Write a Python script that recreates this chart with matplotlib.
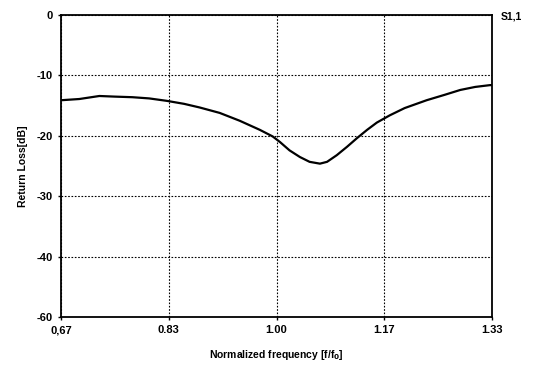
import numpy as np
import matplotlib
matplotlib.use("Agg")
import matplotlib.pyplot as plt

# curve (normalized frequency, return loss in dB)
freq = [0.667, 0.695, 0.726, 0.749, 0.777, 0.803, 0.830, 0.857, 0.881, 0.912,
        0.943, 0.974, 0.994, 1.005, 1.020, 1.036, 1.051, 1.067, 1.078, 1.093,
        1.109, 1.124, 1.140, 1.155, 1.175, 1.198, 1.232, 1.260, 1.284, 1.307,
        1.330, 1.333]
loss = [-14.1, -13.9, -13.4, -13.5, -13.6, -13.8, -14.2, -14.7, -15.3, -16.2,
        -17.5, -19.0, -20.1, -21.0, -22.4, -23.5, -24.3, -24.6, -24.3, -23.2,
        -21.8, -20.4, -19.0, -17.8, -16.6, -15.4, -14.1, -13.2, -12.4, -11.9,
        -11.6, -11.6]

x_ticks = [2 / 3, 5 / 6, 1.0, 7 / 6, 4 / 3]
x_labels = ["0,67", "0.83", "1.00", "1.17", "1.33"]
y_ticks = [0, -10, -20, -30, -40, -50]
y_labels = ["0", "-10", "-20", "-30", "-40", "-60"]

plt.rcParams["font.family"] = ["Liberation Sans", "DejaVu Sans"]
plt.rcParams["font.weight"] = "bold"

fig = plt.figure(figsize=(5.35, 3.67), dpi=100)
ax = fig.add_axes([0.114, 0.136, 0.806, 0.823])

ax.plot(freq, loss, color="black", linewidth=1.6, solid_joinstyle="round")

ax.set_xlim(2 / 3, 4 / 3)
ax.set_ylim(-50, 0)
ax.set_xticks(x_ticks)
ax.set_xticklabels(x_labels, fontsize=8, fontweight="bold")
ax.set_yticks(y_ticks)
ax.set_yticklabels(y_labels, fontsize=8, fontweight="bold")
ax.tick_params(length=2, width=1, color="black", pad=4)

ax.grid(True, color="black", linestyle=(0, (1.5, 1.5)), linewidth=0.8)
for s in ax.spines.values():
    s.set_linewidth(1.3)
    s.set_color("black")

ax.set_xlabel("Normalized frequency [f/f$_\\mathbf{0}$]", fontsize=7.5, fontweight="bold", labelpad=9)
ax.set_ylabel("Return Loss[dB]", fontsize=7.5, fontweight="bold", labelpad=6)
fig.text(0.955, 0.955, "S1,1", fontsize=7.5, fontweight="bold", ha="center", va="center")

fig.savefig("out.png", dpi=100)
